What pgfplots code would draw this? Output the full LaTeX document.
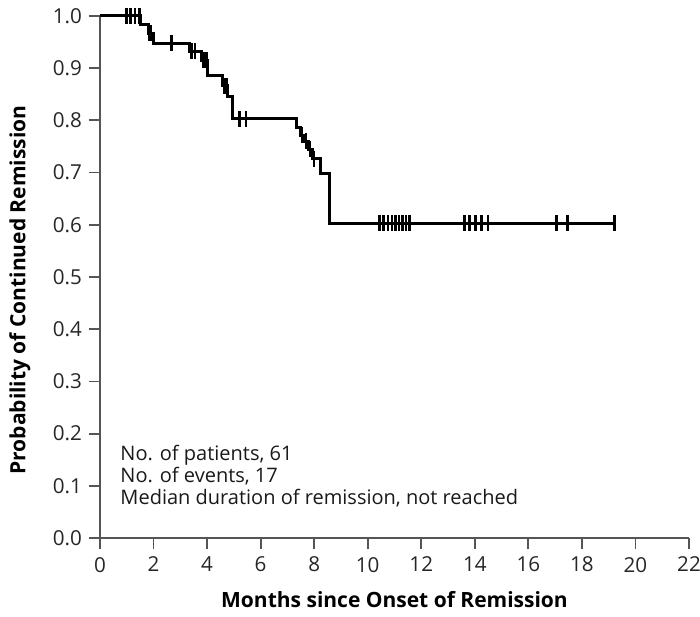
\documentclass[border=0pt]{standalone}
\usepackage{fontspec}
\setmainfont{Open Sans}
\usepackage{pgfplots}
\pgfplotsset{compat=1.18}
\definecolor{axisgray}{HTML}{555555}
\begin{document}
\begin{tikzpicture}
\useasboundingbox (0,0) rectangle (350pt,308pt);
\begin{axis}[
  at={(50pt,39pt)}, anchor=south west,
  scale only axis, width=294.5pt, height=261pt,
  xmin=0, xmax=22, ymin=0, ymax=1,
  axis x line*=bottom, axis y line*=left,
  axis line style={-, draw=axisgray, line width=0.9pt},
  xtick={0,2,...,22}, ytick={0,0.1,0.2,0.3,0.4,0.5,0.6,0.7,0.8,0.9,1.0},
  tick align=outside, major tick length=5.5pt,
  tick style={draw=axisgray, line width=0.9pt},
  /pgf/number format/assume math mode=true,
  yticklabel style={/pgf/number format/fixed, /pgf/number format/fixed zerofill, /pgf/number format/precision=1, xshift=0pt},
  ticklabel style={font=\fontsize{10.3}{12}\selectfont, text=black!85},
  xticklabel style={yshift=-0.5pt},
  xlabel={\bfseries Months since Onset of Remission},
  ylabel={\bfseries Probability of Continued Remission},
  label style={font=\fontsize{10.5}{12}\selectfont},
  xlabel style={at={(axis description cs:0.5,0)}, anchor=center, yshift=-31pt},
  ylabel style={at={(axis description cs:-0.136,0.475)}, anchor=center},
  clip=false,
]
\addplot[const plot, line width=1.5pt, black] coordinates {
(0,1) (1.51,0.984) (1.80,0.967) (1.99,0.948) (3.35,0.932) (3.79,0.915)
(4.03,0.886) (4.59,0.866) (4.78,0.845) (4.96,0.803) (7.35,0.787) (7.48,0.772)
(7.62,0.760) (7.78,0.745) (7.93,0.727) (8.25,0.699) (8.56,0.603) (19.22,0.603)
};
\addplot[only marks, mark=|, mark size=4pt, black, mark options={line width=1.3pt}] coordinates {
(1.0,1) (1.15,1) (1.31,1) (1.47,1)
(1.84,0.967) (1.90,0.967)
(2.67,0.948)
(3.42,0.932) (3.55,0.932)
(3.87,0.915) (3.97,0.915)
(4.65,0.866) (4.72,0.866)
(5.21,0.803) (5.46,0.803)
(7.55,0.772) (7.70,0.760) (7.85,0.745) (8.00,0.727)
(10.44,0.603) (10.59,0.603) (10.75,0.603) (10.90,0.603) (11.04,0.603)
(11.17,0.603) (11.30,0.603) (11.43,0.603) (11.56,0.603)
(13.62,0.603) (13.81,0.603) (14.03,0.603) (14.24,0.603) (14.49,0.603)
(17.04,0.603) (17.47,0.603)
(19.22,0.603)
};
\node[anchor=west, align=left, inner sep=0pt, font=\fontsize{10}{10.9}\selectfont, text=black!90] at (axis cs:0.75,0.118)
  {No. of patients, 61\\No. of events, 17\\Median duration of remission, not reached};
\end{axis}
\end{tikzpicture}
\end{document}
